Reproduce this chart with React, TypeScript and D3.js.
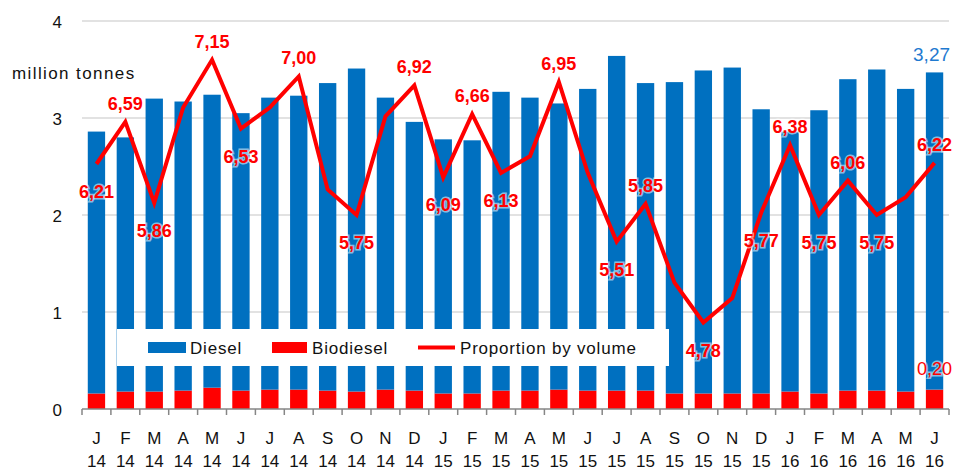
import React, { useEffect, useRef } from "react";
import * as d3 from "d3";

// months and years for the two-line x labels
const months = ["J", "F", "M", "A", "M", "J", "J", "A", "S", "O", "N", "D",
  "J", "F", "M", "A", "M", "J", "J", "A", "S", "O", "N", "D",
  "J", "F", "M", "A", "M", "J"];
const years = ["14", "14", "14", "14", "14", "14", "14", "14", "14", "14", "14", "14",
  "15", "15", "15", "15", "15", "15", "15", "15", "15", "15", "15", "15",
  "16", "16", "16", "16", "16", "16"];

// million tonnes
const diesel = [2.70, 2.62, 3.02, 2.98, 3.02, 2.86, 3.01, 3.03, 3.17, 3.33, 3.01, 2.77,
  2.62, 2.61, 3.08, 3.02, 2.95, 3.11, 3.45, 3.17, 3.21, 3.33, 3.36, 2.93,
  2.68, 2.92, 3.21, 3.31, 3.12, 3.27];
const biodiesel = [0.16, 0.18, 0.18, 0.19, 0.22, 0.19, 0.20, 0.20, 0.19, 0.18, 0.20, 0.19,
  0.16, 0.16, 0.19, 0.19, 0.20, 0.19, 0.19, 0.19, 0.16, 0.16, 0.16, 0.16,
  0.18, 0.16, 0.19, 0.19, 0.18, 0.20];

// proportion by volume, %
const proportion = [6.21, 6.59, 5.86, 6.72, 7.15, 6.53, 6.72, 7.00, 5.98, 5.75, 6.64, 6.92,
  6.09, 6.66, 6.13, 6.28, 6.95, 6.13, 5.51, 5.85, 5.14, 4.78, 5.00, 5.77,
  6.38, 5.75, 6.06, 5.75, 5.91, 6.22];
// which points carry a label, and where: "a" above, "b" below, "" none
const labelPos = ["b", "a", "b", "", "a", "b", "", "a", "", "b", "", "a",
  "b", "a", "b", "", "a", "", "b", "a", "", "b", "", "b",
  "a", "b", "a", "b", "", "a"];

const yTicks = [0, 1, 2, 3, 4];

const BLUE = "#0070C0";
const RED = "#FF0000";
const FONT = "'Liberation Sans', Arial, sans-serif";

const App = () => {
  const chartRef = useRef<SVGSVGElement>(null);

  useEffect(() => {
    const width = 954;
    const height = 470;
    const left = 82;
    const right = 949;
    const top = 21;
    const bottom = 409;

    const svg = d3.select(chartRef.current);
    svg.selectAll("*").remove();
    svg.attr("width", width).attr("height", height);

    const idx = d3.range(months.length);

    const x = d3
      .scaleBand<number>()
      .domain(idx)
      .range([left, right])
      .paddingInner(0.4)
      .paddingOuter(0.2);

    const y = d3.scaleLinear().domain([0, 4]).range([bottom, top]);
    const y2 = d3.scaleLinear().domain([4, 7.5]).range([bottom, top]);

    const cx = (i: number) => (x(i) as number) + x.bandwidth() / 2;

    // gridlines
    svg
      .append("g")
      .selectAll("line")
      .data(yTicks.filter((t) => t > 0))
      .join("line")
      .attr("x1", left)
      .attr("x2", right)
      .attr("y1", (d) => y(d))
      .attr("y2", (d) => y(d))
      .attr("stroke", "#D9D9D9")
      .attr("stroke-width", 1.5);

    // y tick labels
    svg
      .append("g")
      .selectAll("text")
      .data(yTicks)
      .join("text")
      .attr("x", 62)
      .attr("y", (d) => y(d) + 6.5)
      .attr("text-anchor", "end")
      .style("font-family", FONT)
      .style("font-size", "17px")
      .attr("fill", "#111")
      .text((d) => d);

    svg
      .append("text")
      .attr("x", 12)
      .attr("y", 79)
      .style("font-family", FONT)
      .style("font-size", "17px")
      .style("letter-spacing", "1.4px")
      .attr("fill", "#111")
      .text("million tonnes");

    // stacked bars
    const stack = d3
      .stack<number>()
      .keys(["bio", "diesel"])
      .value((i, key) => (key === "bio" ? biodiesel[i] : diesel[i]));
    const series = stack(idx);
    const colors = [RED, BLUE];

    svg
      .append("g")
      .selectAll("g")
      .data(series)
      .join("g")
      .attr("fill", (_, k) => colors[k])
      .selectAll("rect")
      .data((s) => s)
      .join("rect")
      .attr("x", (d) => x(d.data) as number)
      .attr("width", x.bandwidth())
      .attr("y", (d) => y(d[1]))
      .attr("height", (d) => y(d[0]) - y(d[1]));

    // x axis
    const axis = svg.append("g");
    axis
      .append("line")
      .attr("x1", left)
      .attr("x2", right)
      .attr("y1", bottom)
      .attr("y2", bottom)
      .attr("stroke", "#868686")
      .attr("stroke-width", 1.5);
    axis
      .selectAll("line.tick")
      .data(d3.range(months.length + 1))
      .join("line")
      .attr("class", "tick")
      .attr("x1", (i) => left + x.step() * i)
      .attr("x2", (i) => left + x.step() * i)
      .attr("y1", bottom)
      .attr("y2", bottom + 6)
      .attr("stroke", "#868686")
      .attr("stroke-width", 1.5);
    axis
      .selectAll("text.month")
      .data(idx)
      .join("text")
      .attr("class", "month")
      .attr("x", cx)
      .attr("y", 444)
      .attr("text-anchor", "middle")
      .style("font-family", FONT)
      .style("font-size", "17px")
      .attr("fill", "#111")
      .text((i) => months[i]);
    axis
      .selectAll("text.year")
      .data(idx)
      .join("text")
      .attr("class", "year")
      .attr("x", cx)
      .attr("y", 467)
      .attr("text-anchor", "middle")
      .style("font-family", FONT)
      .style("font-size", "17px")
      .attr("fill", "#111")
      .text((i) => years[i]);

    // legend
    const lg = svg.append("g");
    lg.append("rect")
      .attr("x", 117)
      .attr("y", 329)
      .attr("width", 552)
      .attr("height", 37)
      .attr("fill", "#fff");
    lg.append("rect").attr("x", 148).attr("y", 342).attr("width", 38).attr("height", 11).attr("fill", BLUE);
    lg.append("rect").attr("x", 272).attr("y", 342).attr("width", 35).attr("height", 11).attr("fill", RED);
    lg.append("line")
      .attr("x1", 418).attr("x2", 455).attr("y1", 347.5).attr("y2", 347.5)
      .attr("stroke", RED).attr("stroke-width", 4);
    const legendText = [
      { x: 190, t: "Diesel" },
      { x: 312, t: "Biodiesel" },
      { x: 460, t: "Proportion by volume" },
    ];
    lg.selectAll("text")
      .data(legendText)
      .join("text")
      .attr("x", (d) => d.x)
      .attr("y", 354)
      .style("font-family", FONT)
      .style("font-size", "17px")
      .style("letter-spacing", "0.8px")
      .attr("fill", "#111")
      .text((d) => d.t);

    // proportion line
    const line = d3
      .line<number>()
      .x((d, i) => cx(i))
      .y((d) => y2(d));
    svg
      .append("path")
      .datum(proportion)
      .attr("d", line)
      .attr("fill", "none")
      .attr("stroke", RED)
      .attr("stroke-width", 4)
      .attr("stroke-linejoin", "miter");

    // data labels
    const fmt = (v: number) => v.toFixed(2).replace(".", ",");
    svg
      .append("g")
      .selectAll("text")
      .data(idx.filter((i) => labelPos[i] !== ""))
      .join("text")
      .attr("x", cx)
      .attr("y", (i) => y2(proportion[i]) + (labelPos[i] === "a" ? -12 : 34))
      .attr("text-anchor", "middle")
      .style("font-family", FONT)
      .style("font-size", "18px")
      .style("font-weight", "bold")
      .style("paint-order", "stroke")
      .attr("stroke", "rgba(255,255,255,0.55)")
      .attr("stroke-width", 3)
      .attr("fill", RED)
      .text((i) => fmt(proportion[i]));

    const last = months.length - 1;
    svg
      .append("text")
      .attr("x", cx(last) - 3)
      .attr("y", y(diesel[last] + biodiesel[last]) - 11)
      .attr("text-anchor", "middle")
      .style("font-family", FONT)
      .style("font-size", "19px")
      .attr("fill", "#1F7AD0")
      .text(fmt(diesel[last]));
    svg
      .append("text")
      .attr("x", cx(last))
      .attr("y", y(biodiesel[last]) - 15)
      .attr("text-anchor", "middle")
      .style("font-family", FONT)
      .style("font-size", "18px")
      .style("paint-order", "stroke")
      .attr("stroke", "rgba(255,255,255,0.55)")
      .attr("stroke-width", 3)
      .attr("fill", RED)
      .text(fmt(biodiesel[last]));
  }, []);

  return (
    <div style={{ position: "absolute", left: 0, top: 0 }}>
      {/* bars with proportion line */}
      <svg ref={chartRef} style={{ display: "block" }}></svg>
    </div>
  );
};

export default App;
